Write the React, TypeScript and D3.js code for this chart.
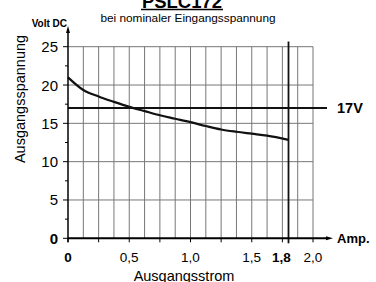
import React from 'react';
import * as d3 from 'd3';

// Kennlinie: Ausgangsstrom (A) -> Ausgangsspannung (V)
const current = [0, 0.125, 0.25, 0.375, 0.5, 0.625, 0.75, 0.875, 1.0, 1.125, 1.25, 1.375, 1.5, 1.625, 1.8];
const voltage = [21.0, 19.35, 18.5, 17.8, 17.15, 16.6, 16.05, 15.6, 15.15, 14.65, 14.2, 13.9, 13.65, 13.4, 12.85];

const yTicks = [0, 5, 10, 15, 20, 25];
const yMinor = [2.5, 7.5, 12.5, 17.5, 22.5];
const xTickLabels = ['0', '0,5', '1,0', '1,5', '1,8', '2,0'];
const xTickValues = [0, 0.5, 1.0, 1.5, 1.8, 2.0];
const xGrid = d3.range(1, 17).map((i) => i * 0.125);
const nominalVolt = 17;
const maxAmp = 1.8;

const W = 376;
const H = 282;
const FONT = 'Arial, "Liberation Sans", Helvetica, sans-serif';

export default function App() {
  const x = d3.scaleLinear().domain([0, 2]).range([68, 313]);
  const y = d3.scaleLinear().domain([0, 25]).range([238.3, 46.7]);

  const line = d3
    .line<number>()
    .x((_, i) => x(current[i]))
    .y((d) => y(d))
    .curve(d3.curveMonotoneX);

  const x0 = x(0);
  const y0 = y(0);

  return (
    <svg
      width={W}
      height={H}
      style={{ position: 'absolute', left: 0, top: 0, background: '#fff' }}
      fontFamily={FONT}
    >
      {/* title */}
      <text x={182} y={8} textAnchor="middle" fontSize={18.5} fontWeight="bold">
        PSLC172
      </text>
      <line x1={141} x2={223} y1={9.5} y2={9.5} stroke="#000" strokeWidth={1.5} />
      <text x={188} y={22} textAnchor="middle" fontSize={11.8}>
        bei nominaler Eingangsspannung
      </text>

      {/* vertical grid */}
      {xGrid.map((v) => (
        <line key={'gx' + v} x1={x(v)} x2={x(v)} y1={y(25)} y2={y0} stroke="#777" strokeWidth={1} />
      ))}
      {/* horizontal grid */}
      {yTicks.slice(1).map((v) => (
        <line key={'gy' + v} x1={x0} x2={x(2)} y1={y(v)} y2={y(v)} stroke="#777" strokeWidth={1} />
      ))}

      {/* 17V line */}
      <line x1={x0} x2={327} y1={y(nominalVolt)} y2={y(nominalVolt)} stroke="#111" strokeWidth={1.8} />
      <text x={337} y={y(nominalVolt) + 5} fontSize={14.5} fontWeight="bold">
        17V
      </text>

      {/* 1.8 A line */}
      <line x1={x(maxAmp)} x2={x(maxAmp)} y1={41.5} y2={y0 + 5} stroke="#111" strokeWidth={1.8} />

      {/* curve */}
      <path d={line(voltage) || ''} fill="none" stroke="#111" strokeWidth={2.2} />

      {/* y axis */}
      <line x1={x0} x2={x0} y1={29} y2={y0 + 4} stroke="#000" strokeWidth={1.5} />
      <path d={`M${x0 - 2},${33} L${x0},${26} L${x0 + 2},${33} Z`} fill="#000" />
      {yTicks.map((v) => (
        <line key={'yt' + v} x1={x0 - 5} x2={x0} y1={y(v)} y2={y(v)} stroke="#000" strokeWidth={1} />
      ))}
      {yMinor.map((v) => (
        <line key={'ym' + v} x1={x0 - 3} x2={x0} y1={y(v)} y2={y(v)} stroke="#000" strokeWidth={1} />
      ))}
      {yTicks.map((v) => (
        <text
          key={'yl' + v}
          x={58}
          y={y(v) + 5.5}
          textAnchor="end"
          fontSize={15}
          fontWeight={v === 0 ? 'bold' : 'normal'}
        >
          {v}
        </text>
      ))}
      <text x={67} y={27} textAnchor="end" fontSize={10} fontWeight="bold">
        Volt DC
      </text>
      <text
        transform={`translate(25,99) rotate(-90)`}
        textAnchor="middle"
        fontSize={14.5}
      >
        Ausgangsspannung
      </text>

      {/* x axis */}
      <line x1={x0} x2={328} y1={y0} y2={y0} stroke="#000" strokeWidth={2} />
      <path d={`M${326},${y0 - 2} L${333},${y0} L${326},${y0 + 2} Z`} fill="#000" />
      {d3.range(0, 9).map((i) => (
        <line key={'xt' + i} x1={x(i * 0.25)} x2={x(i * 0.25)} y1={y0} y2={y0 + 4} stroke="#000" strokeWidth={1} />
      ))}
      {xTickValues.map((v, i) => (
        <text
          key={'xl' + v}
          x={v === maxAmp ? x(v) - 7 : x(v)}
          y={262}
          textAnchor="middle"
          fontSize={13.5}
          fontWeight={v === 0 || v === maxAmp ? 'bold' : 'normal'}
        >
          {xTickLabels[i]}
        </text>
      ))}
      <text x={337} y={y0 + 4.5} fontSize={13} fontWeight="bold">
        Amp.
      </text>
      <text x={184} y={281} textAnchor="middle" fontSize={14.5}>
        Ausgangsstrom
      </text>
    </svg>
  );
}
